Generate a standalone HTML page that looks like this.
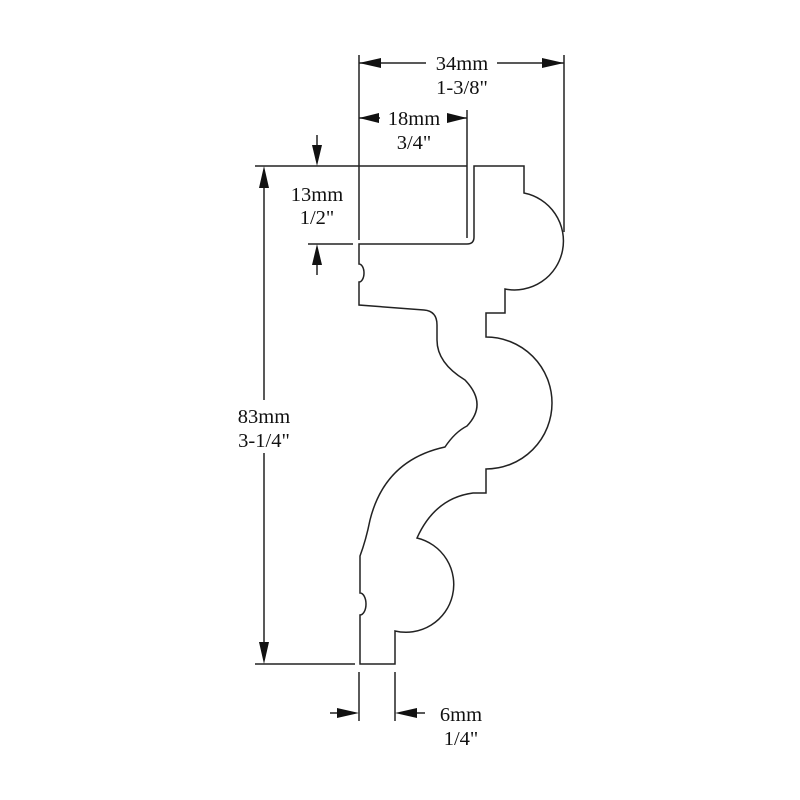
<!DOCTYPE html>
<html><head><style>
html,body{margin:0;padding:0;background:#fff;}
svg{display:block;}
text{font-family:"Liberation Serif",serif;font-size:20.5px;fill:#111;text-anchor:middle;}
</style></head><body>
<svg width="800" height="800" viewBox="0 0 800 800" xmlns="http://www.w3.org/2000/svg">
<g stroke="#222" stroke-width="1.5" fill="none">
<path d="M359,244 L467,244 Q474,244 474,237 L474,166 L524,166 L524,193 A44,44 0 0 1 505,289 L505,313 L486,313 L486,337 A66,66 0 0 1 486,469 L486,493 L473,493 Q435,498 417,538 A47,47 0 0 1 395,631 L395,664 L360,664 L360,615 A6,11 0 0 0 360,593 L360,556 Q366,540 370,520 Q385,460 445,447 Q455,432 467,426 Q488,404 465,380 Q437,363 437,340 L437,325 Q437,311 424,310 L359,305 L359,282 A5,9 0 0 0 359,264 Z"/>
<line x1="359" y1="55" x2="359" y2="240"/>
<line x1="564" y1="55" x2="564" y2="232"/>
<line x1="467" y1="110" x2="467" y2="238"/>
<line x1="255" y1="166" x2="467" y2="166"/>
<line x1="308" y1="244" x2="353" y2="244"/>
<line x1="255" y1="664" x2="355" y2="664"/>
<line x1="359" y1="672" x2="359" y2="721"/>
<line x1="395" y1="672" x2="395" y2="721"/>
<line x1="359" y1="63" x2="426" y2="63"/>
<line x1="497" y1="63" x2="564" y2="63"/>
<line x1="359" y1="118" x2="380" y2="118"/>
<line x1="448" y1="118" x2="467" y2="118"/>
<line x1="317" y1="135" x2="317" y2="160"/>
<line x1="317" y1="250" x2="317" y2="275"/>
<line x1="264" y1="170" x2="264" y2="400"/>
<line x1="264" y1="453" x2="264" y2="660"/>
<line x1="330" y1="713" x2="355" y2="713"/>
<line x1="399" y1="713" x2="425" y2="713"/>
</g>
<g fill="#111">
<polygon points="359,63 381,58 381,68"/>
<polygon points="564,63 542,58 542,68"/>
<polygon points="359,118 379,113 379,123"/>
<polygon points="467,118 447,113 447,123"/>
<polygon points="317,166 312,145 322,145"/>
<polygon points="317,244 312,265 322,265"/>
<polygon points="264,166 259,188 269,188"/>
<polygon points="264,664 259,642 269,642"/>
<polygon points="359,713 337,708 337,718"/>
<polygon points="395,713 417,708 417,718"/>
</g>
<text x="462" y="70">34mm</text>
<text x="462" y="94">1-3/8"</text>
<text x="414" y="125">18mm</text>
<text x="414" y="149">3/4"</text>
<text x="317" y="201">13mm</text>
<text x="317" y="224">1/2"</text>
<text x="264" y="423">83mm</text>
<text x="264" y="447">3-1/4"</text>
<text x="461" y="721">6mm</text>
<text x="461" y="745">1/4"</text>
</svg>
</body></html>
